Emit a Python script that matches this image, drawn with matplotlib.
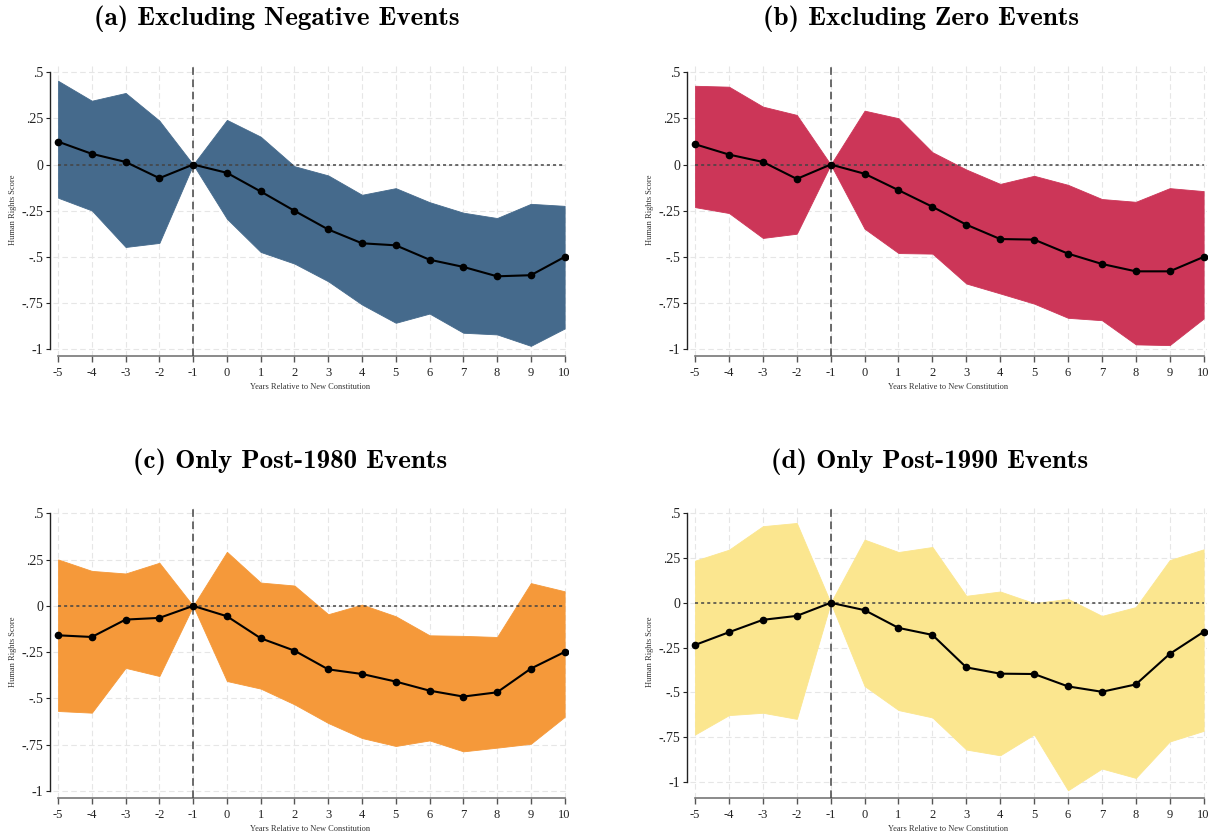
import matplotlib.pyplot as plt
import numpy as np

years = np.arange(-5, 11)

# (a) excluding negative events
coef_a = [0.124, 0.058, 0.014, -0.074, 0, -0.045, -0.146, -0.251, -0.352, -0.427, -0.438, -0.516, -0.555, -0.606, -0.600, -0.501]
hi_a = [0.454, 0.346, 0.388, 0.238, 0, 0.242, 0.151, -0.009, -0.059, -0.164, -0.128, -0.204, -0.261, -0.290, -0.213, -0.224]
lo_a = [-0.180, -0.249, -0.447, -0.425, 0, -0.294, -0.474, -0.537, -0.633, -0.759, -0.858, -0.808, -0.912, -0.921, -0.983, -0.889]

# (b) excluding zero events
coef_b = [0.110, 0.054, 0.014, -0.078, 0, -0.050, -0.139, -0.229, -0.326, -0.404, -0.407, -0.483, -0.539, -0.579, -0.579, -0.501]
hi_b = [0.427, 0.422, 0.314, 0.269, 0, 0.292, 0.251, 0.067, -0.027, -0.105, -0.061, -0.110, -0.187, -0.202, -0.128, -0.144]
lo_b = [-0.231, -0.263, -0.398, -0.375, 0, -0.348, -0.480, -0.483, -0.645, -0.699, -0.754, -0.831, -0.844, -0.975, -0.979, -0.835]

# (c) post-1980 only
coef_c = [-0.159, -0.168, -0.074, -0.065, 0, -0.056, -0.175, -0.242, -0.343, -0.368, -0.409, -0.458, -0.490, -0.467, -0.339, -0.249]
hi_c = [0.251, 0.189, 0.175, 0.233, 0, 0.292, 0.126, 0.110, -0.045, 0.007, -0.056, -0.159, -0.162, -0.168, 0.123, 0.079]
lo_c = [-0.568, -0.577, -0.335, -0.379, 0, -0.406, -0.447, -0.532, -0.633, -0.714, -0.757, -0.727, -0.786, -0.766, -0.745, -0.600]

# (d) post-1990 only
coef_d = [-0.235, -0.164, -0.095, -0.073, 0, -0.041, -0.140, -0.179, -0.360, -0.395, -0.397, -0.466, -0.496, -0.455, -0.285, -0.162]
hi_d = [0.235, 0.296, 0.427, 0.445, 0, 0.352, 0.283, 0.311, 0.039, 0.063, -0.002, 0.022, -0.073, -0.024, 0.238, 0.298]
lo_d = [-0.734, -0.626, -0.613, -0.647, 0, -0.464, -0.598, -0.639, -0.818, -0.850, -0.734, -1.045, -0.924, -0.976, -0.773, -0.714]

titles = ['(a) Excluding Negative Events', '(b) Excluding Zero Events',
          '(c) Only Post-1980 Events', '(d) Only Post-1990 Events']
colors = ['#456a8c', '#cc3658', '#f5993a', '#fbe68f']
yticks = [-1, -0.75, -0.5, -0.25, 0, 0.25, 0.5]
ytick_labels = ['-1', '-.75', '-.5', '-.25', '0', '.25', '.5']

plt.rcParams['font.family'] = 'Liberation Serif'
plt.rcParams['axes.unicode_minus'] = False

fig = plt.figure(figsize=(12.14, 8.36), dpi=100)

W, H = 1214, 836
# axes boxes in pixels: left, top, right, bottom
boxes = [(53, 64, 568, 356), (690, 64, 1207, 356),
         (53, 505, 568, 798), (690, 505, 1207, 798)]
ybottoms = [-1.038, -1.038, -1.038, -1.088]
title_x = [277, 921, 290, 930]
title_y = [19, 19, 462, 462]

panels = [(coef_a, hi_a, lo_a), (coef_b, hi_b, lo_b),
          (coef_c, hi_c, lo_c), (coef_d, hi_d, lo_d)]

for i, (coef, hi, lo) in enumerate(panels):
    l, t, r, b = boxes[i]
    ax = fig.add_axes([l / W, 1 - b / H, (r - l) / W, (b - t) / H])
    ax.set_axisbelow(True)
    ax.grid(True, color='#e6e6e6', ls=(0, (5, 3)), lw=0.8)

    ax.fill_between(years, lo, hi, color=colors[i], lw=0.6, ec=colors[i], zorder=2)
    ax.hlines(0, -5, 10, color='#444444', ls=(0, (2, 2)), lw=1.1, zorder=3)
    ax.axvline(-1, color='#444444', ls=(0, (5, 3)), lw=1.1, zorder=3)
    ax.plot(years, coef, color='black', lw=1.5, marker='o', ms=4.5, zorder=4)

    ax.set_xlim(-5.15, 10.1)
    ax.set_ylim(ybottoms[i], 0.545)
    ax.set_xticks(years)
    ax.set_xticklabels([str(v) for v in years], fontsize=9)
    ax.set_yticks(yticks)
    ax.set_yticklabels(ytick_labels, fontsize=6.5)

    for s in ['top', 'right']:
        ax.spines[s].set_visible(False)
    ax.spines['left'].set_bounds(-1, 0.5)
    ax.spines['left'].set_position(('outward', 2.2))
    ax.spines['left'].set_color('#222222')
    ax.spines['left'].set_linewidth(1.0)
    ax.spines['bottom'].set_bounds(-5, 10)
    ax.spines['bottom'].set_color('#777777')
    ax.spines['bottom'].set_linewidth(1.2)
    ax.tick_params(axis='y', length=3, width=0.8, pad=2, colors='#222222')
    ax.tick_params(axis='x', length=4, width=1.0, pad=4, colors='#555555', labelcolor='#222222')

    ax.set_ylabel('Human Rights Score', fontsize=6, color='#333333')
    ax.yaxis.set_label_coords(-0.07, 0.5)
    ax.set_xlabel('Years Relative to New Constitution', fontsize=6, labelpad=3, color='#333333')

    fig.text(title_x[i] / W, 1 - title_y[i] / H, titles[i], family='cmb10',
             fontsize=19.5, ha='center', va='center')

fig.savefig('out.png', dpi=100)
